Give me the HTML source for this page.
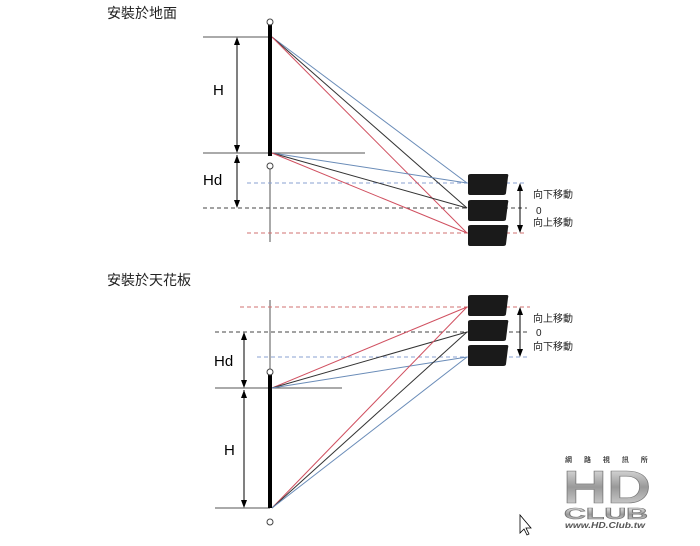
<!DOCTYPE html>
<html><head><meta charset="utf-8"><style>
html,body{margin:0;padding:0;background:#fff;}
svg{display:block;font-family:"Liberation Sans","Noto Sans CJK TC",sans-serif;}
</style></head><body>
<svg width="700" height="546" viewBox="0 0 700 546">
<defs>
<linearGradient id="g" x1="0" y1="0" x2="0" y2="1"><stop offset="0" stop-color="#f4f4f4"/><stop offset="0.5" stop-color="#999"/><stop offset="1" stop-color="#e0e0e0"/></linearGradient>
</defs>
<text x="107" y="18" font-size="14" fill="#222">安裝於地面</text>
<text x="107" y="285" font-size="14" fill="#222">安裝於天花板</text>

<!-- TOP -->
<g stroke-width="1" fill="none">
<line x1="203" y1="37" x2="270" y2="37" stroke="#555"/>
<line x1="203" y1="153" x2="365" y2="153" stroke="#555"/>
<line x1="270" y1="166" x2="270" y2="242" stroke="#555"/>
<line x1="247" y1="183" x2="527" y2="183" stroke="#8aa0d0" stroke-dasharray="4,3"/>
<line x1="203" y1="208" x2="527" y2="208" stroke="#444" stroke-dasharray="4,3"/>
<line x1="247" y1="233" x2="527" y2="233" stroke="#d07070" stroke-dasharray="4,3"/>
<line x1="272" y1="37" x2="467" y2="183" stroke="#6a8cb8"/>
<line x1="272" y1="37" x2="467" y2="208" stroke="#333"/>
<line x1="272" y1="37" x2="467" y2="233" stroke="#d05060"/>
<line x1="272" y1="153" x2="467" y2="183" stroke="#6a8cb8"/>
<line x1="272" y1="153" x2="467" y2="208" stroke="#333"/>
<line x1="272" y1="153" x2="467" y2="233" stroke="#d05060"/>
<line x1="237" y1="39" x2="237" y2="151" stroke="#000"/>
<line x1="237" y1="155" x2="237" y2="206" stroke="#000"/>
<line x1="520" y1="185" x2="520" y2="231" stroke="#000"/>
</g>
<path d="M237,37 l-3,8 h6z M237,153 l-3,-8 h6z M237,155 l-3,8 h6z M237,208 l-3,-8 h6z M520,183 l-3,8 h6z M520,233 l-3,-8 h6z" fill="#000"/>
<rect x="268" y="25" width="4" height="131" fill="#000"/>
<circle cx="270" cy="22" r="3" fill="#fff" stroke="#444"/>
<circle cx="270" cy="166" r="3" fill="#fff" stroke="#444"/>
<g fill="#1a1a1a">
<path d="M468,176 q0,-2 3,-2 h36 q2,0 1,3 l-2,16 q0,2 -3,2 h-33 q-2,0 -2,-2z"/>
<path d="M468,202 q0,-2 3,-2 h36 q2,0 1,3 l-2,16 q0,2 -3,2 h-33 q-2,0 -2,-2z"/>
<path d="M468,227 q0,-2 3,-2 h36 q2,0 1,3 l-2,16 q0,2 -3,2 h-33 q-2,0 -2,-2z"/>
</g>
<text x="213" y="95" font-size="15">H</text>
<text x="203" y="185" font-size="15">Hd</text>
<g font-size="10" fill="#222">
<text x="533" y="198">向下移動</text><text x="536" y="214">0</text><text x="533" y="226">向上移動</text>
</g>

<!-- BOTTOM -->
<g stroke-width="1" fill="none">
<line x1="215" y1="388" x2="342" y2="388" stroke="#555"/>
<line x1="215" y1="508" x2="270" y2="508" stroke="#555"/>
<line x1="270" y1="300" x2="270" y2="370" stroke="#555"/>
<line x1="240" y1="307" x2="530" y2="307" stroke="#d07070" stroke-dasharray="4,3"/>
<line x1="215" y1="332" x2="530" y2="332" stroke="#444" stroke-dasharray="4,3"/>
<line x1="257" y1="357" x2="530" y2="357" stroke="#8aa0d0" stroke-dasharray="4,3"/>
<line x1="272" y1="388" x2="467" y2="307" stroke="#d05060"/>
<line x1="272" y1="388" x2="467" y2="332" stroke="#333"/>
<line x1="272" y1="388" x2="467" y2="357" stroke="#6a8cb8"/>
<line x1="272" y1="508" x2="467" y2="307" stroke="#d05060"/>
<line x1="272" y1="508" x2="467" y2="332" stroke="#333"/>
<line x1="272" y1="508" x2="467" y2="357" stroke="#6a8cb8"/>
<line x1="244" y1="334" x2="244" y2="386" stroke="#000"/>
<line x1="244" y1="390" x2="244" y2="506" stroke="#000"/>
<line x1="520" y1="309" x2="520" y2="355" stroke="#000"/>
</g>
<path d="M244,332 l-3,8 h6z M244,388 l-3,-8 h6z M244,390 l-3,8 h6z M244,508 l-3,-8 h6z M520,307 l-3,8 h6z M520,357 l-3,-8 h6z" fill="#000"/>
<rect x="268" y="375" width="4" height="133" fill="#000"/>
<circle cx="270" cy="372" r="3" fill="#fff" stroke="#444"/>
<circle cx="270" cy="522" r="3" fill="#fff" stroke="#444"/>
<g fill="#1a1a1a">
<path d="M468,297 q0,-2 3,-2 h36 q2,0 1,3 l-2,16 q0,2 -3,2 h-33 q-2,0 -2,-2z"/>
<path d="M468,322 q0,-2 3,-2 h36 q2,0 1,3 l-2,16 q0,2 -3,2 h-33 q-2,0 -2,-2z"/>
<path d="M468,347 q0,-2 3,-2 h36 q2,0 1,3 l-2,16 q0,2 -3,2 h-33 q-2,0 -2,-2z"/>
</g>
<text x="214" y="366" font-size="15">Hd</text>
<text x="224" y="455" font-size="15">H</text>
<g font-size="10" fill="#222">
<text x="533" y="322">向上移動</text><text x="536" y="336">0</text><text x="533" y="350">向下移動</text>
</g>

<!-- logo -->
<text x="565" y="462" font-size="7" font-weight="bold" fill="#444" letter-spacing="5">網 路 視 訊 所</text>
<text x="563" y="503" font-size="46" font-weight="bold" fill="url(#g)" stroke="#777" stroke-width="0.6" textLength="88" lengthAdjust="spacingAndGlyphs">HD</text>
<text x="564" y="519" font-size="16" font-weight="bold" fill="url(#g)" stroke="#777" stroke-width="0.6" textLength="84" lengthAdjust="spacingAndGlyphs">CLUB</text>
<text x="565" y="528" font-size="8" font-style="italic" font-weight="bold" fill="#555" textLength="80" lengthAdjust="spacingAndGlyphs">www.HD.Club.tw</text>
<path d="M520,515 v18 l4,-4 l3,6 l2,-1 l-3,-6 h5z" fill="#fff" stroke="#000" stroke-width="0.8"/>
</svg>
</body></html>
